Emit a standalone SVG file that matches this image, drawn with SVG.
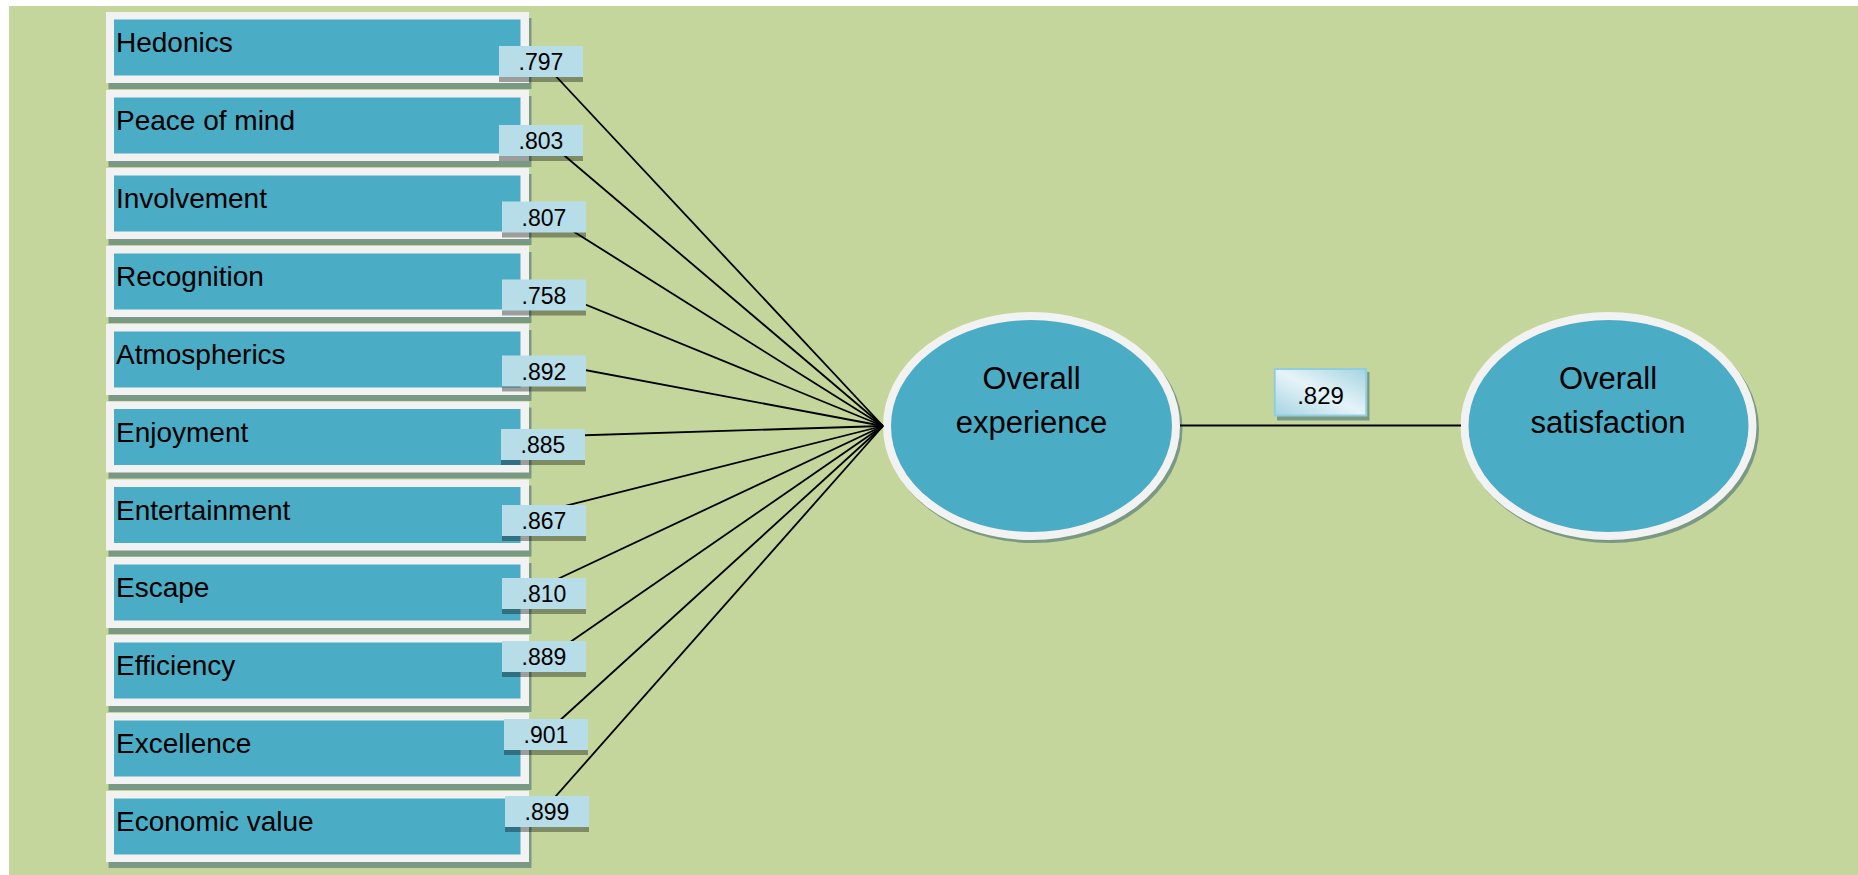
<svg xmlns="http://www.w3.org/2000/svg" width="1858" height="875" viewBox="0 0 1858 875">
  <defs>
    <linearGradient id="pathGrad" x1="0" y1="1" x2="1" y2="0">
      <stop offset="0" stop-color="#a4d4e2"/>
      <stop offset="0.5" stop-color="#e6f3f8"/>
      <stop offset="1" stop-color="#a4d4e2"/>
    </linearGradient>
  </defs>
  <style>
    .bg { fill: #c4d69b; }
    .box-shadow { fill: #7a9985; }
    .box-frame { fill: #f2f2f2; }
    .box-fill { fill: #4bacc6; }
    .box-text { font-family: "Liberation Sans", Arial, sans-serif; font-size: 28px; fill: #000; }
    .lbl { fill: #b7dde8; }
    .lbl-shadow { fill: #000; fill-opacity: 0.35; }
    .lbl-text { font-family: "Liberation Sans", Arial, sans-serif; font-size: 23px; fill: #000; text-anchor: middle; }
    .conn { stroke: #000; stroke-width: 1.8; fill: none; }
    .ell-shadow { fill: #7a9985; }
    .ell { fill: #4bacc6; stroke: #f2f2f2; stroke-width: 8; }
    .ell-text { font-family: "Liberation Sans", Arial, sans-serif; font-size: 31px; fill: #000; text-anchor: middle; }
  </style>

  <!-- page background -->
  <rect x="0" y="0" width="1858" height="875" fill="#ffffff"/>
  <rect class="bg" x="9" y="6" width="1849" height="869"/>

  <!-- indicator boxes -->
  <g id="node-hedonics">
    <rect class="box-shadow" x="108.5" y="18" width="423" height="71"/>
    <rect class="box-frame" x="106" y="12" width="423" height="71"/>
    <rect class="box-fill" x="114" y="19.5" width="406.5" height="56"/>
    <text class="box-text" x="116" y="52">Hedonics</text>
  </g>
  <g id="node-peace-of-mind">
    <rect class="box-shadow" x="108.5" y="96" width="423" height="71"/>
    <rect class="box-frame" x="106" y="90" width="423" height="71"/>
    <rect class="box-fill" x="114" y="97.5" width="406.5" height="56"/>
    <text class="box-text" x="116" y="130">Peace of mind</text>
  </g>
  <g id="node-involvement">
    <rect class="box-shadow" x="108.5" y="174" width="423" height="71"/>
    <rect class="box-frame" x="106" y="168" width="423" height="71"/>
    <rect class="box-fill" x="114" y="175.5" width="406.5" height="56"/>
    <text class="box-text" x="116" y="208">Involvement</text>
  </g>
  <g id="node-recognition">
    <rect class="box-shadow" x="108.5" y="252" width="423" height="71"/>
    <rect class="box-frame" x="106" y="246" width="423" height="71"/>
    <rect class="box-fill" x="114" y="253.5" width="406.5" height="56"/>
    <text class="box-text" x="116" y="286">Recognition</text>
  </g>
  <g id="node-atmospherics">
    <rect class="box-shadow" x="108.5" y="330" width="423" height="71"/>
    <rect class="box-frame" x="106" y="324" width="423" height="71"/>
    <rect class="box-fill" x="114" y="331.5" width="406.5" height="56"/>
    <text class="box-text" x="116" y="364">Atmospherics</text>
  </g>
  <g id="node-enjoyment">
    <rect class="box-shadow" x="108.5" y="407.5" width="423" height="71"/>
    <rect class="box-frame" x="106" y="401.5" width="423" height="71"/>
    <rect class="box-fill" x="114" y="409" width="406.5" height="56"/>
    <text class="box-text" x="116" y="441.5">Enjoyment</text>
  </g>
  <g id="node-entertainment">
    <rect class="box-shadow" x="108.5" y="485.5" width="423" height="71"/>
    <rect class="box-frame" x="106" y="479.5" width="423" height="71"/>
    <rect class="box-fill" x="114" y="487" width="406.5" height="56"/>
    <text class="box-text" x="116" y="519.5">Entertainment</text>
  </g>
  <g id="node-escape">
    <rect class="box-shadow" x="108.5" y="563" width="423" height="71"/>
    <rect class="box-frame" x="106" y="557" width="423" height="71"/>
    <rect class="box-fill" x="114" y="564.5" width="406.5" height="56"/>
    <text class="box-text" x="116" y="597">Escape</text>
  </g>
  <g id="node-efficiency">
    <rect class="box-shadow" x="108.5" y="641" width="423" height="71"/>
    <rect class="box-frame" x="106" y="635" width="423" height="71"/>
    <rect class="box-fill" x="114" y="642.5" width="406.5" height="56"/>
    <text class="box-text" x="116" y="675">Efficiency</text>
  </g>
  <g id="node-excellence">
    <rect class="box-shadow" x="108.5" y="719" width="423" height="71"/>
    <rect class="box-frame" x="106" y="713" width="423" height="71"/>
    <rect class="box-fill" x="114" y="720.5" width="406.5" height="56"/>
    <text class="box-text" x="116" y="753">Excellence</text>
  </g>
  <g id="node-economic-value">
    <rect class="box-shadow" x="108.5" y="797" width="423" height="71"/>
    <rect class="box-frame" x="106" y="791" width="423" height="71"/>
    <rect class="box-fill" x="114" y="798.5" width="406.5" height="56"/>
    <text class="box-text" x="116" y="831">Economic value</text>
  </g>

  <!-- latent variables -->
  <g id="node-overall-experience">
    <ellipse class="ell-shadow" cx="1034" cy="429" rx="148.5" ry="114"/>
    <ellipse class="ell" cx="1031.5" cy="426" rx="144.5" ry="110"/>
    <text class="ell-text" x="1031.5" y="389">Overall</text>
    <text class="ell-text" x="1031.5" y="433">experience</text>
  </g>
  <g id="node-overall-satisfaction">
    <ellipse class="ell-shadow" cx="1611" cy="429" rx="148" ry="114"/>
    <ellipse class="ell" cx="1608.5" cy="426" rx="144" ry="110"/>
    <text class="ell-text" x="1608" y="389">Overall</text>
    <text class="ell-text" x="1608" y="433">satisfaction</text>
  </g>

  <!-- paths -->
  <g id="connectors">
    <line class="conn" x1="529" y1="47.5" x2="883" y2="426"/>
    <line class="conn" x1="529" y1="125.5" x2="883" y2="426"/>
    <line class="conn" x1="529" y1="203.5" x2="883" y2="426"/>
    <line class="conn" x1="529" y1="281.5" x2="883" y2="426"/>
    <line class="conn" x1="529" y1="359.5" x2="883" y2="426"/>
    <line class="conn" x1="529" y1="437" x2="883" y2="426"/>
    <line class="conn" x1="529" y1="515" x2="883" y2="426"/>
    <line class="conn" x1="529" y1="592.5" x2="883" y2="426"/>
    <line class="conn" x1="529" y1="670.5" x2="883" y2="426"/>
    <line class="conn" x1="529" y1="748.5" x2="883" y2="426"/>
    <line class="conn" x1="529" y1="826.5" x2="883" y2="426"/>
    <line class="conn" x1="1180" y1="425.5" x2="1461" y2="425.5"/>

    <!-- loading labels -->
    <g id="label-797">
      <rect class="lbl-shadow" x="499" y="51" width="84" height="31"/>
      <rect class="lbl" x="499" y="46" width="84" height="31"/>
      <text class="lbl-text" x="541" y="70">.797</text>
    </g>
    <g id="label-803">
      <rect class="lbl-shadow" x="499" y="130" width="84" height="31"/>
      <rect class="lbl" x="499" y="125" width="84" height="31"/>
      <text class="lbl-text" x="541" y="149">.803</text>
    </g>
    <g id="label-807">
      <rect class="lbl-shadow" x="502" y="206.5" width="84" height="31"/>
      <rect class="lbl" x="502" y="201.5" width="84" height="31"/>
      <text class="lbl-text" x="544" y="225.5">.807</text>
    </g>
    <g id="label-758">
      <rect class="lbl-shadow" x="502" y="284.5" width="84" height="31"/>
      <rect class="lbl" x="502" y="279.5" width="84" height="31"/>
      <text class="lbl-text" x="544" y="303.5">.758</text>
    </g>
    <g id="label-892">
      <rect class="lbl-shadow" x="502" y="360.5" width="84" height="31"/>
      <rect class="lbl" x="502" y="355.5" width="84" height="31"/>
      <text class="lbl-text" x="544" y="379.5">.892</text>
    </g>
    <g id="label-885">
      <rect class="lbl-shadow" x="501" y="434" width="84" height="31"/>
      <rect class="lbl" x="501" y="429" width="84" height="31"/>
      <text class="lbl-text" x="543" y="453">.885</text>
    </g>
    <g id="label-867">
      <rect class="lbl-shadow" x="502" y="510" width="84" height="31"/>
      <rect class="lbl" x="502" y="505" width="84" height="31"/>
      <text class="lbl-text" x="544" y="529">.867</text>
    </g>
    <g id="label-810">
      <rect class="lbl-shadow" x="502" y="583" width="84" height="31"/>
      <rect class="lbl" x="502" y="578" width="84" height="31"/>
      <text class="lbl-text" x="544" y="602">.810</text>
    </g>
    <g id="label-889">
      <rect class="lbl-shadow" x="502" y="646" width="84" height="31"/>
      <rect class="lbl" x="502" y="641" width="84" height="31"/>
      <text class="lbl-text" x="544" y="665">.889</text>
    </g>
    <g id="label-901">
      <rect class="lbl-shadow" x="504" y="724" width="84" height="31"/>
      <rect class="lbl" x="504" y="719" width="84" height="31"/>
      <text class="lbl-text" x="546" y="743">.901</text>
    </g>
    <g id="label-899">
      <rect class="lbl-shadow" x="505" y="801" width="84" height="31"/>
      <rect class="lbl" x="505" y="796" width="84" height="31"/>
      <text class="lbl-text" x="547" y="820">.899</text>
    </g>
    <g id="label-829">
      <rect x="1277" y="372" width="92.5" height="48.5" fill="#7a9985"/>
      <rect x="1274.75" y="369" width="91.5" height="46.5" fill="url(#pathGrad)" stroke="#92cddc" stroke-width="2"/>
      <text x="1320.5" y="404" font-family="Liberation Sans, Arial, sans-serif" font-size="24" text-anchor="middle" fill="#000">.829</text>
    </g>
  </g>
</svg>
